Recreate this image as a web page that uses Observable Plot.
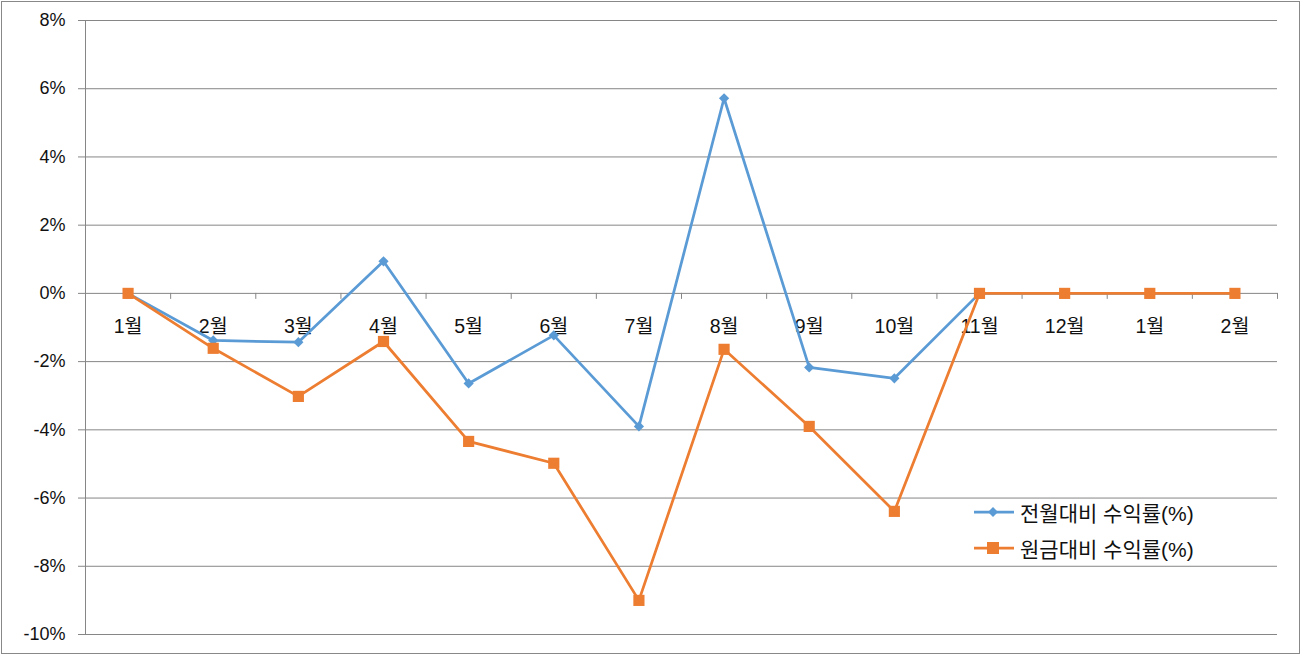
<!DOCTYPE html>
<html><head><meta charset="utf-8">
<script src="https://cdn.jsdelivr.net/npm/d3@7"></script>
<script src="https://cdn.jsdelivr.net/npm/@observablehq/plot@0.6"></script>
<style>
body{margin:0;background:#fff;}
#wrap{position:relative;width:1301px;height:655px;font-family:"Liberation Sans","Noto Sans CJK KR",sans-serif;}
#legend{position:absolute;left:973px;top:494px;font-size:21px;color:#111;}
#legend .row{display:flex;align-items:center;height:36px;}
#legend svg{margin-right:5px;}
</style>
</head><body><div id="wrap"></div>
<script>
const months = ["1월","2월","3월","4월","5월","6월","7월","8월","9월","10월","11월","12월","1월","2월"];
const seriesNames = ["전월대비 수익률(%)","원금대비 수익률(%)"];
const momReturn = [0,-1.38,-1.43,0.94,-2.64,-1.23,-3.90,5.72,-2.17,-2.49,0,0,0,0];
const principalReturn = [0,-1.61,-3.02,-1.41,-4.34,-4.98,-9.00,-1.64,-3.90,-6.39,0,0,0,0];
const yTicks = [-10,-8,-6,-4,-2,0,2,4,6,8];
const colors = ["#5B9BD5","#ED7D31"];

const data = months.flatMap((m,i)=>[
  {i, month:m, series:seriesNames[0], value:momReturn[i]},
  {i, month:m, series:seriesNames[1], value:principalReturn[i]}
]);
const n = months.length;
const boundaries = d3.range(n).map(i=>i+0.5);
const pxPerUnit = 614/18;
const grid = "#868686";

const chart = Plot.plot({
  width:1301, height:655,
  marginLeft:85, marginRight:24, marginTop:20, marginBottom:21,
  style:{fontFamily:'"Liberation Sans","Noto Sans CJK KR",sans-serif', fontSize:"18px", color:"#111", background:"#fff"},
  x:{type:"linear", domain:[-0.5, n-0.5], axis:null},
  y:{domain:[-10,8], axis:null},
  color:{domain:seriesNames, range:colors},
  marks:[
    Plot.ruleY(yTicks, {x1:-0.5, x2:n-0.5, stroke:grid, strokeWidth:1, insetLeft:-7}),
    Plot.ruleX([-0.5], {stroke:grid, strokeWidth:1}),
    Plot.ruleX(boundaries, {y1:0, y2:-6/pxPerUnit, stroke:grid, strokeWidth:1}),
    Plot.axisY({ticks:yTicks, tickSize:0, tickPadding:20, tickFormat:d=>`${d}%`, fontSize:18, label:null}),
    Plot.text(months, {x:(d,i)=>i, y:()=>0, text:d=>d, dy:33, fontSize:19.5, fill:"#111"}),
    Plot.line(data.filter(d=>d.series===seriesNames[0]), {x:"i", y:"value", stroke:"series", strokeWidth:2.75}),
    Plot.dot(data.filter(d=>d.series===seriesNames[0]), {x:"i", y:"value", fill:"series", symbol:"diamond2", r:4.6}),
    Plot.line(data.filter(d=>d.series===seriesNames[1]), {x:"i", y:"value", stroke:"series", strokeWidth:2.75}),
    Plot.dot(data.filter(d=>d.series===seriesNames[1]), {x:"i", y:"value", fill:"series", symbol:"square", r:6.3})
  ]
});
d3.select(chart).append("rect").attr("x",1.5).attr("y",1.5).attr("width",1298).attr("height",652)
  .attr("fill","none").attr("stroke","#888").attr("stroke-width",1);
const wrap = document.getElementById("wrap");
wrap.appendChild(chart);

const legend = document.createElement("div");
legend.id = "legend";
seriesNames.forEach((name, k)=>{
  const row = document.createElement("div");
  row.className = "row";
  const marker = k===0
    ? `<polygon points="20,6 25,11 20,16 15,11" fill="${colors[k]}"/>`
    : `<rect x="14" y="5" width="12" height="12" fill="${colors[k]}"/>`;
  row.innerHTML = `<svg width="42" height="22"><line x1="1" x2="41" y1="11" y2="11" stroke="${colors[k]}" stroke-width="2.75"/>${marker}</svg><span>${name}</span>`;
  legend.appendChild(row);
});
wrap.appendChild(legend);
</script>
</body></html>
